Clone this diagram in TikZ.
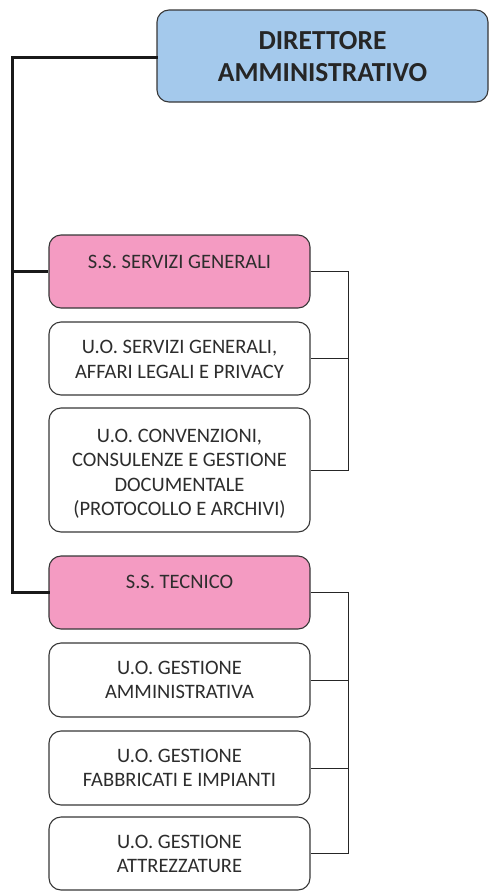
\documentclass[tikz,border=0pt]{standalone}
\usepackage{fontspec}
\setmainfont{Carlito}
\begin{document}
\definecolor{dirblue}{RGB}{164,201,236}
\definecolor{sspink}{RGB}{244,155,194}
\definecolor{edgegray}{RGB}{55,55,55}
\definecolor{txtgray}{RGB}{45,45,45}
\begin{tikzpicture}[x=1pt,y=-1pt,
  box/.style={draw=edgegray,line width=1.1pt,rounded corners=12pt,minimum width=261pt,inner sep=0pt},
  dirbox/.style={box,fill=dirblue,minimum width=331pt,minimum height=92pt},
  ssbox/.style={box,fill=sspink,minimum height=73pt},
  uobox/.style={box,fill=white},
  lbl/.style={text=txtgray,align=center,font=\fontsize{20.5}{24.5}\selectfont,inner sep=0pt},
  dirlbl/.style={text=black!85,align=center,font=\fontsize{27.5}{32}\selectfont\bfseries,inner sep=0pt},
  trunk/.style={draw=black!90,line width=3pt},
  branch/.style={draw=black!85,line width=1pt}]
\useasboundingbox (0,0) rectangle (490,892);

% director
\node[dirbox] (dir) at (322.5,56) {};
\node[dirlbl] (dirt) at (322.5,57) {DIRETTORE\\AMMINISTRATIVO};

% S.S. Servizi Generali and its units
\node[ssbox] (ss1) at (179.5,271.5) {};
\node[lbl] (ss1t) at (179.5,262) {S.S. SERVIZI GENERALI};
\node[uobox,minimum height=73pt] (uo1) at (179.5,358.5) {};
\node[lbl] (uo1t) at (179.5,359.5) {U.O. SERVIZI GENERALI,\\AFFARI LEGALI E PRIVACY};
\node[uobox,minimum height=124pt] (uo2) at (179.5,470) {};
\node[lbl] (uo2t) at (179.5,474) {U.O. CONVENZIONI,\\CONSULENZE E GESTIONE\\DOCUMENTALE\\(PROTOCOLLO E ARCHIVI)};

% S.S. Tecnico and its units
\node[ssbox] (ss2) at (179.5,592.5) {};
\node[lbl] (ss2t) at (179.5,582) {S.S. TECNICO};
\node[uobox,minimum height=74pt] (uo3) at (179.5,680) {};
\node[lbl] (uo3t) at (179.5,680) {U.O. GESTIONE\\AMMINISTRATIVA};
\node[uobox,minimum height=74pt] (uo4) at (179.5,768) {};
\node[lbl] (uo4t) at (179.5,768) {U.O. GESTIONE\\FABBRICATI E IMPIANTI};
\node[uobox,minimum height=73pt] (uo5) at (179.5,853.5) {};
\node[lbl] (uo5t) at (179.5,854) {U.O. GESTIONE\\ATTREZZATURE};

% main trunk from the director
\coordinate (tk) at (12,57);
\draw[trunk,line cap=rect] (dir.west |- tk) -- (tk) |- (ss2.west);
\draw[trunk] (tk |- ss1.west) -- (ss1.west);

% unit brackets
\coordinate (b1) at (348,0);
\draw[branch] (ss1.east) -| (b1 |- uo2.east) -- (uo2.east);
\draw[branch] (uo1.east) -- (b1 |- uo1.east);
\draw[branch] (ss2.east) -| (b1 |- uo5.east) -- (uo5.east);
\draw[branch] (uo3.east) -- (b1 |- uo3.east);
\draw[branch] (uo4.east) -- (b1 |- uo4.east);
\end{tikzpicture}
\end{document}
